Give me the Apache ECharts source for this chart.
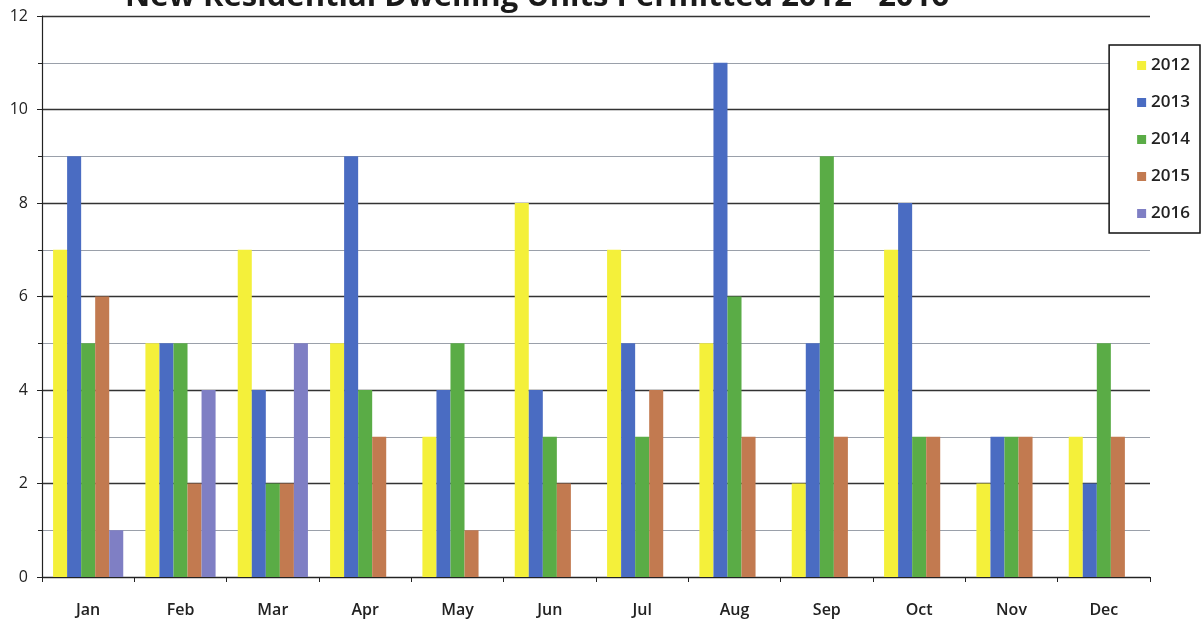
<!DOCTYPE html>
<html>
<head>
<meta charset="utf-8">
<script src="https://cdn.jsdelivr.net/npm/echarts@6/dist/echarts.min.js"></script>
<style>
html,body{margin:0;padding:0;background:#fff;}
#main{width:1204px;height:624px;}
</style>
</head>
<body>
<div id="main"></div>
<script>
const months = ['Jan','Feb','Mar','Apr','May','Jun','Jul','Aug','Sep','Oct','Nov','Dec'];
const seriesNames = ['2012','2013','2014','2015','2016'];
const v2012 = [7,5,7,5,3,8,7,5,2,7,2,3];
const v2013 = [9,5,4,9,4,4,5,11,5,8,3,2];
const v2014 = [5,5,2,4,5,3,3,6,9,3,3,5];
const v2015 = [6,2,2,3,1,2,4,3,3,3,3,3];
const v2016 = [1,4,5,null,null,null,null,null,null,null,null,null];
const colors = ['#f4f03a','#4a6cc2','#5aac46','#c27a50','#7f7fc4'];
const allValues = [v2012,v2013,v2014,v2015,v2016];

const chart = echarts.init(document.getElementById('main'));
chart.setOption({
  animation:false,
  backgroundColor:'#fff',
  title:{
    text:'New Residential Dwelling Units Permitted 2012 - 2016',
    left:532, textAlign:'center', top:-23,
    textStyle:{fontFamily:'Open Sans',fontWeight:'bold',fontSize:31,color:'#1a1a1a'}
  },
  legend:{
    orient:'vertical',
    right:4, top:45,
    padding:[12,10,11,28],
    itemGap:20,
    itemWidth:9,itemHeight:9,
    icon:'rect',
    backgroundColor:'#fff',
    borderColor:'#111',borderWidth:1.5,
    textStyle:{fontFamily:'Open Sans',fontSize:17,fontWeight:'600',color:'#222'},
    data:seriesNames
  },
  grid:{left:42,right:54,top:16,bottom:47},
  xAxis:{
    type:'category',
    data:months,
    axisLine:{lineStyle:{color:'#222',width:1.2}},
    axisTick:{show:true,lineStyle:{color:'#222'}},
    axisLabel:{fontFamily:'Open Sans',fontSize:16,fontWeight:'600',color:'#222',margin:25}
  },
  yAxis:{
    type:'value',
    min:0,max:12,interval:2,
    axisLine:{show:true,lineStyle:{color:'#222',width:1.2}},
    axisTick:{show:true,lineStyle:{color:'#222'}},
    minorTick:{show:true,splitNumber:2,length:4,lineStyle:{color:'#222'}},
    axisLabel:{fontFamily:'Open Sans',fontSize:16,color:'#222',margin:14},
    splitLine:{show:true,lineStyle:{color:'#333',width:1.3}},
    minorSplitLine:{show:true,lineStyle:{color:'#9aa0aa',width:1}}
  },
  series: seriesNames.map((n,i)=>({
    name:n,
    type:'bar',
    data:allValues[i],
    barGap:'0%',
    barCategoryGap:'24%',
    itemStyle:{color:colors[i]}
  }))
});
</script>
</body>
</html>
